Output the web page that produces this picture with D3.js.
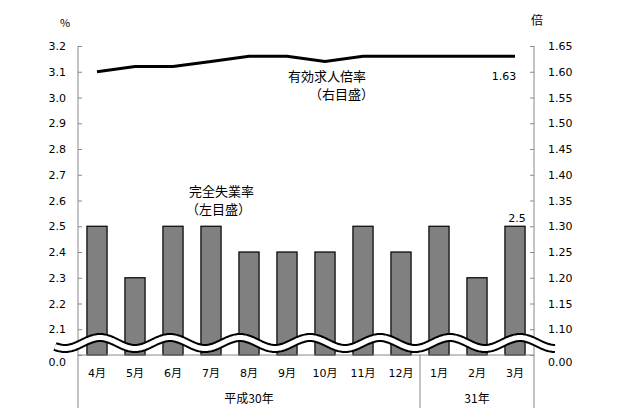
<!DOCTYPE html>
<html>
<head>
<meta charset="utf-8">
<script src="https://cdn.jsdelivr.net/npm/d3@7"></script>
<style>
  body { margin: 0; background: #fff; }
  text { fill: #000; }
</style>
</head>
<body>
<div id="chart"></div>
<script>
// data
var months = ["4月", "5月", "6月", "7月", "8月", "9月", "10月", "11月", "12月", "1月", "2月", "3月"];
var unemployment = [2.5, 2.3, 2.5, 2.5, 2.4, 2.4, 2.4, 2.5, 2.4, 2.5, 2.3, 2.5];
var jobRatio = [1.60, 1.61, 1.61, 1.62, 1.63, 1.63, 1.62, 1.63, 1.63, 1.63, 1.63, 1.63];
var leftTicks = [2.0, 2.1, 2.2, 2.3, 2.4, 2.5, 2.6, 2.7, 2.8, 2.9, 3.0, 3.1, 3.2];
var rightTicks = [1.05, 1.10, 1.15, 1.20, 1.25, 1.30, 1.35, 1.40, 1.45, 1.50, 1.55, 1.60, 1.65];
var years = [{label: "平成30年", from: "4月", to: "12月"}, {label: "31年", from: "1月", to: "3月"}];

// set the dimensions and margins of the graph
var margin = {top: 46, right: 103, bottom: 58, left: 78},
    width = 637 - margin.left - margin.right,
    height = 413 - margin.top - margin.bottom;

var numFont = "'DejaVu Sans', 'Noto Sans CJK JP', sans-serif";
var jpFont = "'Noto Sans CJK JP', sans-serif";

var svg = d3.select("#chart").append("svg")
    .attr("width", 637)
    .attr("height", 413)
  .append("g")
    .attr("transform", "translate(" + margin.left + "," + margin.top + ")");

// set the ranges
var x = d3.scaleBand().domain(months).range([0, width]).paddingInner(0.47).paddingOuter(0.235);
var y = d3.scaleLinear().domain([2.0, 3.2]).range([height, 0]);
var y2 = d3.scaleLinear().domain([1.05, 1.65]).range([height, 0]);

// bars
svg.selectAll("rect.bar")
    .data(unemployment)
  .enter().append("rect")
    .attr("class", "bar")
    .attr("x", function(d, i) { return x(months[i]); })
    .attr("width", x.bandwidth())
    .attr("y", function(d) { return y(d); })
    .attr("height", function(d) { return height - y(d); })
    .attr("fill", "#808080")
    .attr("stroke", "#000")
    .attr("stroke-width", 1.2);

// left axis
var yAxis = svg.append("g")
    .call(d3.axisLeft(y).tickValues(leftTicks).tickSizeInner(-4).tickSizeOuter(0).tickPadding(12)
      .tickFormat(function(d) { return d === 2.0 ? "0.0" : d3.format(".1f")(d); }));

// right axis
var y2Axis = svg.append("g")
    .attr("transform", "translate(" + width + ",0)")
    .call(d3.axisRight(y2).tickValues(rightTicks).tickSizeInner(-4).tickSizeOuter(0).tickPadding(14)
      .tickFormat(function(d) { return Math.abs(d - 1.05) < 1e-9 ? "0.00" : d3.format(".2f")(d); }));

[yAxis, y2Axis].forEach(function(a) {
  a.select(".domain").remove();
  a.selectAll(".tick line").attr("stroke", "#888");
  a.selectAll(".tick text")
      .style("font-family", numFont)
      .style("font-size", "11px")
      .attr("fill", "#222");
  // the break value sits a little below the baseline
  a.selectAll(".tick").filter(function(d, i) { return i === 0; })
      .select("text").attr("y", 7);
});

// axis lines, running down past the month labels
var bottomY = height + 53;
svg.append("line").attr("x1", 0).attr("x2", 0).attr("y1", 0).attr("y2", bottomY)
    .attr("stroke", "#888");
svg.append("line").attr("x1", width).attr("x2", width).attr("y1", 0).attr("y2", bottomY)
    .attr("stroke", "#888");
svg.append("line").attr("x1", 0).attr("x2", width).attr("y1", height).attr("y2", height)
    .attr("stroke", "#888");

// month labels
svg.selectAll("text.month")
    .data(months)
  .enter().append("text")
    .attr("class", "month")
    .attr("x", function(d) { return x(d) + x.bandwidth() / 2; })
    .attr("y", height + 22)
    .attr("text-anchor", "middle")
    .style("font-family", numFont)
    .style("font-size", "11px")
    .text(function(d) { return d; });

// year groups
var gap = x.step() * x.paddingInner() / 2;
years.forEach(function(g, i) {
  var x0 = i === 0 ? 0 : x(g.from) - gap,
      x1 = i === years.length - 1 ? width : x(g.to) + x.bandwidth() + gap;
  if (i > 0) {
    svg.append("line").attr("x1", x0).attr("x2", x0).attr("y1", height).attr("y2", bottomY)
        .attr("stroke", "#888");
  }
  svg.append("text")
      .attr("x", (x0 + x1) / 2)
      .attr("y", height + 48)
      .attr("text-anchor", "middle")
      .style("font-family", jpFont)
      .style("font-size", "12px")
      .text(g.label);
});

// job openings line
var valueline = d3.line()
    .x(function(d, i) { return x(months[i]) + x.bandwidth() / 2; })
    .y(function(d) { return y2(d); });

svg.append("path")
    .datum(jobRatio)
    .attr("fill", "none")
    .attr("stroke", "#000")
    .attr("stroke-width", 3)
    .attr("d", valueline);

// axis break (wavy band)
var wave = d3.range(-23, 478, 1).map(function(px) {
  return [px, height - 12 - 5.5 * Math.cos(2 * Math.PI * (px - 22) / 70)];
});
var waveLine = d3.line().curve(d3.curveBasis);
svg.append("path").attr("d", waveLine(wave)).attr("fill", "none")
    .attr("stroke", "#000").attr("stroke-width", 9);
svg.append("path").attr("d", waveLine(wave)).attr("fill", "none")
    .attr("stroke", "#fff").attr("stroke-width", 5);

// units
svg.append("text").attr("x", -13).attr("y", -19).attr("text-anchor", "middle")
    .style("font-family", jpFont).style("font-size", "11px").text("%");
svg.append("text").attr("x", width + 3).attr("y", -21).attr("text-anchor", "middle")
    .style("font-family", jpFont).style("font-size", "12px").text("倍");

// value labels
var last = months.length - 1;
svg.append("text")
    .attr("x", x(months[last]) + x.bandwidth() / 2 - 11)
    .attr("y", y2(jobRatio[last]) + 24)
    .attr("text-anchor", "middle")
    .style("font-family", numFont).style("font-size", "11px")
    .text(d3.format(".2f")(jobRatio[last]));
svg.append("text")
    .attr("x", x(months[last]) + x.bandwidth() / 2 + 2)
    .attr("y", y(unemployment[last]) - 4)
    .attr("text-anchor", "middle")
    .style("font-family", numFont).style("font-size", "11px")
    .text(unemployment[last]);

// series notes
function note(lines, px, py) {
  var t = svg.append("text")
      .style("font-family", jpFont)
      .style("font-size", "13px");
  lines.forEach(function(s, i) {
    t.append("tspan").attr("x", px[i]).attr("y", py + i * 18).text(s);
  });
}
note(["有効求人倍率", "（右目盛）"], [210, 231], 35);
note(["完全失業率", "（左目盛）"], [111, 108], 150);
</script>
</body>
</html>
